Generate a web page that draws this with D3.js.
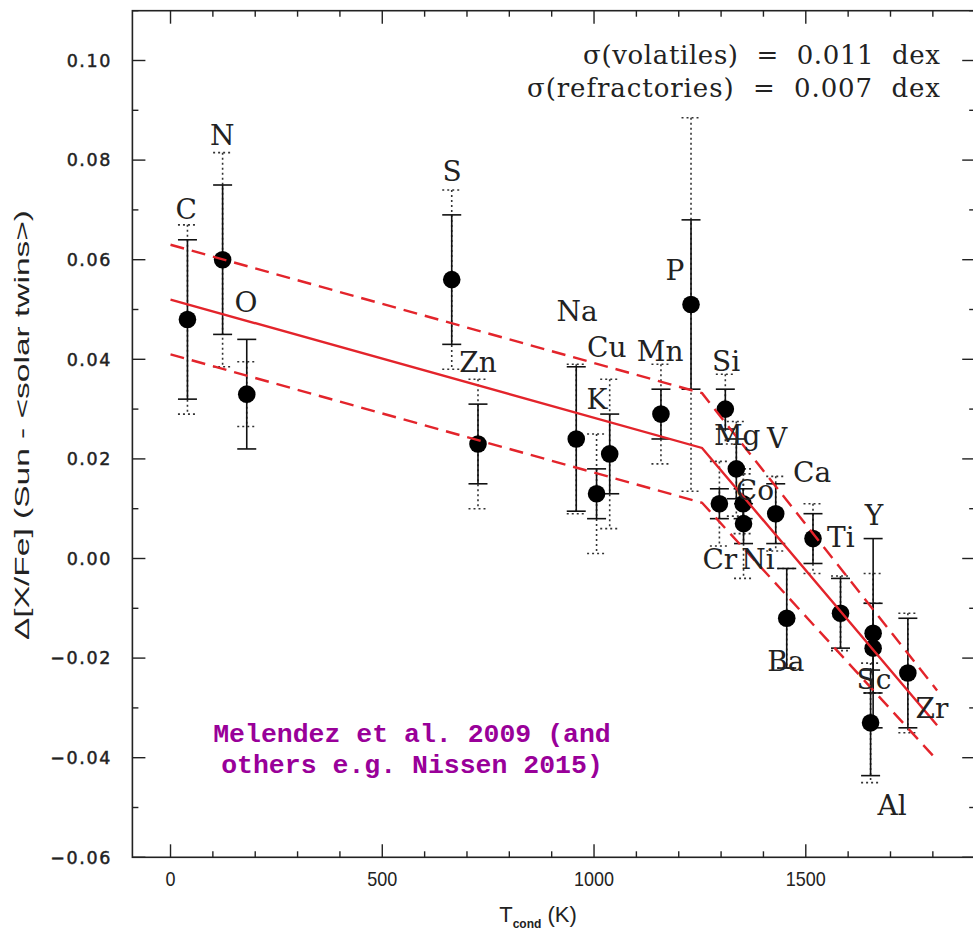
<!DOCTYPE html>
<html>
<head>
<meta charset="utf-8">
<script src="https://cdn.jsdelivr.net/npm/d3@7"></script>
<style>
  html, body { margin: 0; padding: 0; background: #fff; }
  svg { display: block; }
</style>
</head>
<body>
<svg id="chart" width="973" height="935"></svg>
<script>
// ---------- data ----------
const elements = ["C","N","O","S","Zn","Na","K","Cu","Mn","P","Si","Cr","Mg","Co","Ni","V","Ba","Ca","Ti","Y","Sc","Al","Zr"];
const tcond    = [40,123,180,664,726,958,1006,1037,1158,1229,1310,1296,1336,1352,1353,1429,1455,1517,1582,1659,1659,1653,1741];
const dXFe     = [0.048,0.060,0.033,0.056,0.023,0.024,0.013,0.021,0.029,0.051,0.030,0.011,0.018,0.011,0.007,0.009,-0.012,0.004,-0.011,-0.015,-0.018,-0.033,-0.023];
const errSolid = [0.016,0.015,0.011,0.013,0.008,0.0145,0.005,0.008,0.005,0.017,0.004,0.003,0.006,0.003,0.004,0.006,0.010,0.005,0.007,0.019,0.009,0.0106,0.011];
const errDot   = [0.019,0.0215,0.0065,0.018,0.013,0.015,0.012,0.015,0.010,0.0375,0.007,0.0085,0.0095,0.006,0.011,0.0075,0.010,0.007,0.0075,0.012,0.009,0.012,0.012];
// label anchors (data coordinates)
const labelT   = [37,122,178,665,726,960,1007,1030,1156,1191,1312,1297,1338,1380,1387,1432,1453,1515,1583,1661,1661,1704,1798];
const labelV   = [0.0702,0.085,0.0515,0.0778,0.0395,0.0497,0.032,0.0425,0.0417,0.0579,0.0397,-0.0001,0.0248,0.0138,-0.0001,0.0242,-0.0206,0.0174,0.0043,0.0087,-0.0242,-0.0495,-0.030];
// broken-line fit and its scatter band
const fitT    = [0, 1255, 1810];
const fitV    = [0.052, 0.0222, -0.0335];
const fitBand = [0.011, 0.011, 0.007];
// axes
const xTicksMajor = [0, 500, 1000, 1500];
const xTicksMinor = d3.range(0, 1901, 100);
const yTicksMajor = [-0.06,-0.04,-0.02,0.00,0.02,0.04,0.06,0.08,0.10];
const yTicksMinor = d3.range(-0.06, 0.111, 0.01);
const yTickLabels = ["\u22120.06","\u22120.04","\u22120.02","0.00","0.02","0.04","0.06","0.08","0.10"];
const sigmaLines = ["\u03c3(volatiles)  =  0.011  dex", "\u03c3(refractories)  =  0.007  dex"];
const noteLines = ["Melendez et al. 2009 (and", "others e.g. Nissen 2015)"];

// ---------- scales ----------
const x = d3.scaleLinear().domain([-90, 1900]).range([132.4, 975.2]);
const y = d3.scaleLinear().domain([-0.06, 0.11]).range([857.3, 10.7]);

const svg = d3.select("#chart");
const red = "#e3242b";

// frame
svg.append("rect").attr("x", x(-90)).attr("y", y(0.11))
  .attr("width", x(1900) - x(-90)).attr("height", y(-0.06) - y(0.11))
  .attr("fill", "none").attr("stroke", "#222").attr("stroke-width", 1.6);

// ticks
const tickG = svg.append("g").attr("stroke", "#222").attr("stroke-width", 1.4);
xTicksMinor.forEach(t => {
  const major = xTicksMajor.includes(t);
  const L = major ? 13 : 6;
  tickG.append("line").attr("x1", x(t)).attr("x2", x(t)).attr("y1", y(-0.06)).attr("y2", y(-0.06) - L);
  tickG.append("line").attr("x1", x(t)).attr("x2", x(t)).attr("y1", y(0.11)).attr("y2", y(0.11) + L);
});
yTicksMinor.forEach(v => {
  const major = yTicksMajor.some(m => Math.abs(m - v) < 1e-6);
  const L = major ? 13 : 6;
  tickG.append("line").attr("x1", x(-90)).attr("x2", x(-90) + L).attr("y1", y(v)).attr("y2", y(v));
  tickG.append("line").attr("x1", x(1900)).attr("x2", x(1900) - L).attr("y1", y(v)).attr("y2", y(v));
});

// y tick labels
svg.append("g").selectAll("text").data(yTicksMajor).join("text")
  .attr("x", 112).attr("y", d => y(d)).attr("dy", "0.36em")
  .attr("text-anchor", "end")
  .attr("font-family", "'DejaVu Sans', sans-serif").attr("font-size", 17.5)
  .attr("letter-spacing", 1.6).attr("fill", "#222")
  .attr("stroke", "#222").attr("stroke-width", 0.45)
  .text((d, i) => yTickLabels[i]);

// x tick labels
svg.append("g").selectAll("text").data(xTicksMajor).join("text")
  .attr("x", d => x(d)).attr("y", 886)
  .attr("text-anchor", "middle")
  .attr("font-family", "'Liberation Sans', sans-serif").attr("font-size", 21)
  .attr("textLength", d => String(d).length * 10).attr("lengthAdjust", "spacingAndGlyphs")
  .attr("fill", "#222")
  .text(d => d);

// x title
const xt = svg.append("text").attr("x", 538).attr("y", 922).attr("text-anchor", "middle")
  .attr("font-family", "'Liberation Sans', sans-serif").attr("font-size", 22).attr("fill", "#222");
xt.append("tspan").text("T");
xt.append("tspan").attr("font-size", 12).attr("font-weight", "bold").attr("dy", 6).text("cond");
xt.append("tspan").attr("dy", -6).text(" (K)");

// y title
svg.append("text").attr("transform", "translate(29,425) rotate(-90)")
  .attr("text-anchor", "middle")
  .attr("font-family", "'Liberation Sans', sans-serif").attr("font-size", 21)
  .attr("textLength", 430).attr("lengthAdjust", "spacingAndGlyphs")
  .attr("fill", "#222")
  .text("\u0394[X/Fe] (Sun - <solar twins>)");

// error bars
const idx = d3.range(elements.length);
const capW = 9.5;
const eb = svg.append("g");
// dotted
idx.forEach(i => {
  const g = eb.append("g").attr("stroke", "#333").attr("stroke-width", 1.6).attr("stroke-dasharray", "2,3");
  const cx = x(tcond[i]);
  g.append("line").attr("x1", cx).attr("x2", cx).attr("y1", y(dXFe[i] + errDot[i])).attr("y2", y(dXFe[i] - errDot[i]));
  [1, -1].forEach(s => g.append("line").attr("x1", cx - capW).attr("x2", cx + capW)
    .attr("y1", y(dXFe[i] + s * errDot[i])).attr("y2", y(dXFe[i] + s * errDot[i])));
});
// solid
idx.forEach(i => {
  const g = eb.append("g").attr("stroke", "#111").attr("stroke-width", 1.6);
  const cx = x(tcond[i]);
  g.append("line").attr("x1", cx).attr("x2", cx).attr("y1", y(dXFe[i] + errSolid[i])).attr("y2", y(dXFe[i] - errSolid[i]));
  [1, -1].forEach(s => g.append("line").attr("x1", cx - capW).attr("x2", cx + capW)
    .attr("y1", y(dXFe[i] + s * errSolid[i])).attr("y2", y(dXFe[i] + s * errSolid[i])));
});

// points
svg.append("g").selectAll("circle").data(idx).join("circle")
  .attr("cx", i => x(tcond[i])).attr("cy", i => y(dXFe[i])).attr("r", 8.8)
  .attr("fill", "#000");

// fit lines
const line = d3.line().x(d => x(d[0])).y(d => y(d[1]));
const fitPts = fitT.map((t, i) => [t, fitV[i]]);
svg.append("path").attr("d", line(fitPts)).attr("fill", "none").attr("stroke", red).attr("stroke-width", 2.4);
[1, -1].forEach(s => {
  svg.append("path").attr("d", line(fitT.map((t, i) => [t, fitV[i] + s * fitBand[i]])))
    .attr("fill", "none").attr("stroke", red).attr("stroke-width", 2.4).attr("stroke-dasharray", "14,8");
});

// element labels
svg.append("g").selectAll("text").data(idx).join("text")
  .attr("x", i => x(labelT[i])).attr("y", i => y(labelV[i])).attr("dy", "0.36em")
  .attr("text-anchor", "middle")
  .attr("font-family", "'DejaVu Serif', serif").attr("font-size", 28)
  .attr("fill", "#222")
  .text(i => elements[i]);

// sigma text
svg.append("g").selectAll("text").data(sigmaLines).join("text")
  .attr("x", 940).attr("y", (d, i) => 64 + i * 33)
  .attr("text-anchor", "end")
  .attr("font-family", "'DejaVu Serif', serif").attr("font-size", 26)
  .attr("textLength", (d, i) => i === 0 ? 357 : 413).attr("lengthAdjust", "spacing")
  .attr("fill", "#222")
  .style("white-space", "pre")
  .text(d => d);

// purple note
svg.append("g").selectAll("text").data(noteLines).join("text")
  .attr("x", 412).attr("y", (d, i) => 742 + i * 31)
  .attr("text-anchor", "middle")
  .attr("font-family", "'Liberation Mono', 'Courier New', monospace").attr("font-weight", "bold")
  .attr("font-size", 26.5)
  .attr("fill", "#990099")
  .style("white-space", "pre")
  .text(d => d);
</script>
</body>
</html>
